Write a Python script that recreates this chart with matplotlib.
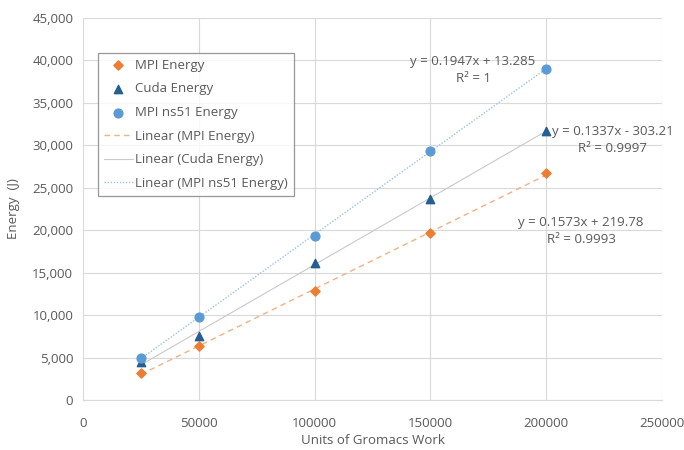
import numpy as np
import matplotlib
matplotlib.use("Agg")
import matplotlib.pyplot as plt

# data
work = [25000, 50000, 100000, 150000, 200000]
mpi_energy = [3145, 6406, 12854, 19650, 26690]
cuda_energy = [4440, 7585, 16195, 23700, 31720]
ns51_energy = [4917, 9752, 19375, 29360, 39033]

x_ticks = [0, 50000, 100000, 150000, 200000, 250000]
y_ticks = list(range(0, 45001, 5000))

eq_ns51 = "y = 0.1947x + 13.285\nR² = 1"
eq_mpi = "y = 0.1337x - 303.21\nR² = 0.9997"
eq_cuda = "y = 0.1573x + 219.78\nR² = 0.9993"

plt.rcParams['font.family'] = ['Open Sans', 'DejaVu Sans']
txt = '#595959'

fig = plt.figure(figsize=(6.84, 4.5), dpi=100)
ax = fig.add_axes([83/684, 50/450, (662-83)/684, (400-18)/450])

orange = '#ED7D31'
dblue = '#255E91'
lblue = '#5B9BD5'

ax.scatter(work, mpi_energy, marker='D', s=22, color=orange, zorder=4, label='MPI Energy')
ax.scatter(work, cuda_energy, marker='^', s=36, color=dblue, zorder=4, label='Cuda Energy')
ax.scatter(work, ns51_energy, marker='o', s=40, color=lblue, zorder=4, label='MPI ns51 Energy')

xs = np.array([work[0], work[-1]])
for ys, col, ls, lw, name in [
        (mpi_energy, '#F4B183', (0, (4, 3)), 1.0, 'Linear (MPI Energy)'),
        (cuda_energy, '#C9C9C9', '-', 0.8, 'Linear (Cuda Energy)'),
        (ns51_energy, '#9DC3E6', (0, (1, 1.2)), 1.0, 'Linear (MPI ns51 Energy)')]:
    m, b = np.polyfit(work, ys, 1)
    ax.plot(xs, m * xs + b, color=col, linestyle=ls, linewidth=lw, zorder=3, label=name)

ax.set_xlim(0, 250000)
ax.set_ylim(0, 45000)
ax.set_xticks(x_ticks)
ax.set_xticklabels([str(v) for v in x_ticks])
ax.set_yticks(y_ticks)
ax.set_yticklabels([f"{v:,}" for v in y_ticks])
ax.grid(True, color='#D9D9D9', linewidth=0.8)
ax.set_axisbelow(True)
for s in ax.spines.values():
    s.set_visible(False)
ax.spines['bottom'].set_visible(True)
ax.spines['bottom'].set_color('#D9D9D9')
ax.tick_params(axis='y', length=0, labelsize=9.5, colors=txt, pad=7)
ax.tick_params(axis='x', length=0, labelsize=9.5, colors=txt, pad=12)

ax.set_xlabel('Units of Gromacs Work', fontsize=9.5, color=txt, labelpad=3)
ax.set_ylabel('Energy  (J)', fontsize=9.5, color=txt, labelpad=9)

ax.text(168400, 38875, eq_ns51, ha='center', va='center', fontsize=9.5, color=txt, linespacing=1.4)
ax.text(228800, 30630, eq_mpi, ha='center', va='center', fontsize=9.5, color=txt, linespacing=1.4)
ax.text(215000, 19910, eq_cuda, ha='center', va='center', fontsize=9.5, color=txt, linespacing=1.4)

leg = ax.legend(loc='upper left', bbox_to_anchor=((98-83)/579, (400-53)/382),
                fontsize=9.5, frameon=True, fancybox=False, borderpad=0.45,
                labelspacing=0.8, handlelength=2.2, handletextpad=0.15,
                borderaxespad=0)
leg.get_frame().set_edgecolor('#7F7F7F')
leg.get_frame().set_linewidth(0.9)
for t in leg.get_texts():
    t.set_color(txt)

fig.savefig('out.png', dpi=100)
